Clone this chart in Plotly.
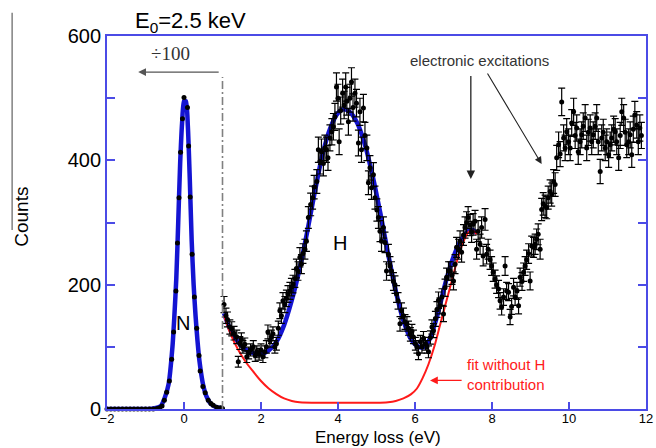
import numpy as np
import plotly.graph_objects as go

# ---------------- data ----------------
# N (elastic, divided by 100) peak data points
n_x = [-2.0, -1.9, -1.8, -1.7, -1.6, -1.5, -1.4, -1.3, -1.2, -1.1, -1.0, -0.9, -0.8, -0.7,
       -0.63, -0.57, -0.51, -0.45, -0.38, -0.32, -0.27, -0.21, -0.17, -0.13, -0.09, -0.04,
       0.0, 0.09, 0.12, 0.16, 0.21, 0.27, 0.33, 0.39, 0.42, 0.49, 0.55, 0.63, 0.70, 0.76,
       0.85, 0.95, 1.0]
n_y = [0, 0, 0, 0, 0, 0, 0, 0, 0, 0, 0, 0, 0, 1,
       2, 5, 14, 27, 45, 80, 124, 190, 267, 340, 413, 467,
       501, 485, 423, 341, 249, 180, 130, 86, 61, 36, 26, 14, 9, 6,
       3, 2, 1]

# N fit (blue)
nfit_x = [-2.0, -1.0, -0.8, -0.6, -0.5, -0.4, -0.3, -0.25, -0.2, -0.15, -0.1, -0.05, 0.0,
          0.05, 0.1, 0.15, 0.2, 0.25, 0.3, 0.35, 0.4, 0.5, 0.6, 0.7, 0.8, 0.9, 1.0]
nfit_y = [0, 0, 1, 5, 18, 40, 100, 150, 210, 300, 395, 460, 495,
          495, 455, 370, 270, 200, 150, 110, 78, 38, 18, 8, 4, 2, 1]

# H region data points (counts)
h_x = [1.04, 1.09, 1.13, 1.19, 1.24, 1.30, 1.37, 1.41, 1.45, 1.49, 1.53, 1.58, 1.63, 1.68,
       1.73, 1.80, 1.85, 1.89, 1.95, 2.00, 2.05, 2.10, 2.14, 2.18, 2.23, 2.27, 2.31, 2.36,
       2.40, 2.45, 2.49, 2.53, 2.57, 2.62, 2.66, 2.70, 2.75, 2.79, 2.83, 2.88, 2.92, 2.96,
       3.01, 3.05, 3.09, 3.14, 3.18, 3.23, 3.29, 3.34, 3.38, 3.45, 3.49, 3.53, 3.57, 3.62,
       3.66, 3.70, 3.74, 3.79, 3.84, 3.88, 3.92, 3.96, 4.00, 4.03, 4.07, 4.12, 4.16, 4.20,
       4.23, 4.27, 4.31, 4.35, 4.39, 4.44, 4.48, 4.53, 4.57, 4.61, 4.66, 4.70, 4.75, 4.79,
       4.83, 4.87, 4.92, 4.96, 5.01, 5.05, 5.09, 5.13, 5.18, 5.22, 5.26, 5.31, 5.35, 5.39,
       5.44, 5.48, 5.52, 5.56, 5.61, 5.65, 5.70, 5.74, 5.79, 5.83, 5.88, 5.92, 5.96, 6.01,
       6.05, 6.09, 6.14, 6.18, 6.22, 6.27, 6.31, 6.35, 6.40, 6.44, 6.48, 6.53, 6.57, 6.61,
       6.65, 6.70, 6.74, 6.78, 6.82, 6.87, 6.91, 6.96, 7.00, 7.04, 7.08, 7.13, 7.17, 7.21,
       7.26, 7.30, 7.34, 7.38, 7.43, 7.47, 7.51, 7.56, 7.60, 7.64, 7.69, 7.73, 7.77, 7.82,
       7.86, 7.90, 7.95, 7.99, 8.03, 8.08, 8.12, 8.17, 8.21, 8.25, 8.30, 8.34, 8.38, 8.43,
       8.47, 8.51, 8.56, 8.60, 8.65, 8.69, 8.73, 8.78, 8.82, 8.86, 8.90, 8.95, 8.99, 9.03,
       9.08, 9.12, 9.16, 9.20, 9.25, 9.29, 9.33, 9.38, 9.42, 9.46, 9.51, 9.55, 9.60, 9.64,
       9.68, 9.73, 9.77, 9.81, 9.86, 9.90, 9.94, 9.99, 10.03, 10.07, 10.12, 10.16, 10.20,
       10.24, 10.29, 10.33, 10.37, 10.42, 10.46, 10.50, 10.55, 10.59, 10.63, 10.68, 10.72,
       10.76, 10.81, 10.85, 10.89, 10.94, 10.98, 11.03, 11.07, 11.11, 11.16, 11.20, 11.24,
       11.29, 11.33, 11.37, 11.42, 11.46, 11.50, 11.55, 11.59, 11.63, 11.67, 11.71, 11.76,
       11.80, 11.84, 11.88]
h_y = [168, 150, 144, 132, 129, 122, 116, 76, 106, 112, 100, 104, 84, 90,
       95, 100, 86, 92, 88, 95, 84, 92, 100, 124, 110, 116, 121, 100,
       105, 130, 158, 150, 174, 168, 178, 185, 190, 196, 201, 210, 226, 222,
       244, 233, 250, 257, 270, 308, 329, 340, 357, 366, 417, 398, 414, 395,
       420, 417, 404, 436, 446, 454, 470, 518, 500, 430, 480, 508, 489, 518,
       495, 462, 500, 526, 485, 508, 492, 428, 478, 417, 484, 440, 420, 364,
       388, 356, 377, 340, 320, 308, 286, 270, 292, 268, 222, 249, 230, 222,
       205, 200, 185, 174, 137, 158, 150, 140, 137, 130, 120, 125, 116, 105,
       100, 89, 108, 100, 114, 105, 100, 92, 115, 132, 126, 145, 160, 175,
       166, 180, 153, 195, 212, 222, 222, 215, 206, 233, 260, 257, 270, 252,
       280, 292, 300, 308, 296, 285, 297, 302, 257, 286, 265, 292, 246, 305,
       249, 257, 240, 230, 220, 209, 200, 193, 174, 164, 180, 230, 190, 188,
       148, 165, 196, 180, 190, 166, 212, 205, 220, 230, 240, 250, 206, 262,
       260, 265, 273, 281, 257, 321, 330, 326, 324, 340, 350, 345, 366, 361,
       404, 425, 410, 494, 436, 420, 446, 430, 420, 460, 478, 440, 452,
       414, 430, 441, 455, 468, 420, 445, 452, 430, 441, 455, 468,
       430, 382, 436, 445, 420, 430, 409, 425, 436, 450, 446, 430,
       404, 440, 478, 468, 445, 425, 430, 441, 409, 450, 473, 457,
       430, 452, 440]
# Poisson (counting) uncertainty of each point, matching the bar lengths in the picture
h_err = list(np.sqrt(np.array(h_y, dtype=float)))

# Full fit (blue) over the H region
hfit_x = [1.04, 1.2, 1.4, 1.6, 1.8, 2.0, 2.2, 2.4, 2.6, 2.8, 3.0, 3.2, 3.4, 3.6, 3.8, 4.0,
          4.15, 4.3, 4.5, 4.7, 4.9, 5.1, 5.3, 5.5, 5.7, 5.9, 6.1, 6.25, 6.4, 6.6, 6.8,
          7.0, 7.2, 7.4, 7.5, 7.6]
hfit_y = [154, 128, 108, 96, 90, 88, 94, 108, 135, 175, 225, 285, 350, 410, 452, 476,
          482, 478, 460, 425, 375, 315, 250, 190, 142, 112, 100, 100, 115, 155, 205,
          245, 272, 287, 288, 283]

# Fit without H contribution (red)
red_x = [1.04, 1.2, 1.4, 1.6, 1.8, 2.0, 2.2, 2.4, 2.6, 2.8, 3.0, 3.5, 4.0, 4.5, 5.0, 5.3,
         5.5, 5.7, 5.9, 6.05, 6.2, 6.35, 6.5, 6.65, 6.8, 6.95, 7.1, 7.25, 7.4, 7.5, 7.6]
red_y = [150, 122, 96, 76, 60, 45, 33, 24, 17, 13, 11, 10, 10, 10, 10, 11,
         13, 17, 24, 33, 50, 72, 100, 135, 170, 205, 240, 268, 285, 287, 281]

x_ticks = [-2, 0, 2, 4, 6, 8, 10, 12]
y_ticks = [0, 100, 200, 300, 400, 500, 600]
y_ticktext = ["0", "", "200", "", "400", "", "600"]

AXIS = "#4b4be6"
BLUE = "#1414d2"
RED = "#ff1a1a"

fig = go.Figure()

fig.add_trace(go.Scatter(x=nfit_x, y=nfit_y, mode="lines",
                         line=dict(color=BLUE, width=4.5, shape="spline", smoothing=0.6),
                         cliponaxis=False, showlegend=False, hoverinfo="skip"))
fig.add_trace(go.Scatter(x=hfit_x, y=hfit_y, mode="lines",
                         line=dict(color=BLUE, width=4.5, shape="spline", smoothing=0.8),
                         showlegend=False, hoverinfo="skip"))
fig.add_trace(go.Scatter(x=red_x, y=red_y, mode="lines",
                         line=dict(color=RED, width=2, shape="spline", smoothing=0.8),
                         showlegend=False, hoverinfo="skip"))
fig.add_trace(go.Scatter(x=n_x, y=n_y, mode="markers",
                         marker=dict(color="black", size=5),
                         cliponaxis=False, showlegend=False))
fig.add_trace(go.Scatter(x=h_x, y=h_y, mode="markers",
                         marker=dict(color="black", size=5),
                         error_y=dict(type="data", array=h_err, visible=True,
                                      color="black", thickness=1.2, width=3.5),
                         showlegend=False))

# dash-dot separator at 1 eV
fig.add_shape(type="line", x0=1.0, x1=1.0, y0=0, y1=534, xref="x", yref="y",
              line=dict(color="#808080", width=1.6, dash="8px,3px,2px,3px"))
# vertical gray line at far left
fig.add_shape(type="line", xref="paper", yref="paper", x0=-0.176, x1=-0.176,
              y0=0.48, y1=1.062, line=dict(color="#808080", width=1.5))

ann = []
# ÷100 arrow
ann.append(dict(x=-1.19, y=542, ax=0.94, ay=542, xref="x", yref="y", axref="x", ayref="y",
                showarrow=True, arrowhead=2, arrowsize=1.2, arrowwidth=1.3,
                arrowcolor="#555555", text=""))
ann.append(dict(x=-0.35, y=551, xref="x", yref="y", text="÷100", showarrow=False,
                xanchor="center",
                font=dict(family="Liberation Serif, Times New Roman, serif", size=19,
                          color="#333333"), yanchor="bottom"))
# electronic excitations
ann.append(dict(x=7.45, y=370, ax=7.45, ay=538, xref="x", yref="y", axref="x", ayref="y",
                showarrow=True, arrowhead=2, arrowsize=1.3, arrowwidth=1.3,
                arrowcolor="#222222", text=""))
ann.append(dict(x=9.29, y=394, ax=7.86, ay=542, xref="x", yref="y", axref="x", ayref="y",
                showarrow=True, arrowhead=2, arrowsize=1.3, arrowwidth=1.1,
                arrowcolor="#222222", text=""))
ann.append(dict(x=7.68, y=560, xref="x", yref="y", text="electronic excitations",
                showarrow=False, xanchor="center",
                font=dict(family="Arial", size=15, color="#333333")))
# red arrow + label
ann.append(dict(x=6.39, y=46, ax=7.25, ay=46, xref="x", yref="y", axref="x", ayref="y",
                showarrow=True, arrowhead=2, arrowsize=1.2, arrowwidth=1.3,
                arrowcolor=RED, text=""))
ann.append(dict(x=7.3, y=56, xref="x", yref="y", text="fit without H<br>contribution",
                showarrow=False, xanchor="left", align="left",
                font=dict(family="Arial", size=15, color=RED)))
# N and H labels
ann.append(dict(x=-0.03, y=139, xref="x", yref="y", text="N", showarrow=False,
                xanchor="center", font=dict(family="Arial", size=20, color="black")))
ann.append(dict(x=4.05, y=267, xref="x", yref="y", text="H", showarrow=False,
                xanchor="center", font=dict(family="Arial", size=20, color="black")))
# title
ann.append(dict(x=0.155, y=1.037, xref="paper", yref="paper", xanchor="center",
                yanchor="middle", text="E<sub>0</sub>=2.5 keV", showarrow=False,
                font=dict(family="Arial", size=22, color="black")))
# axis titles
ann.append(dict(x=-0.158, y=0.515, xref="paper", yref="paper", text="Counts",
                xanchor="center", yanchor="middle",
                textangle=-90, showarrow=False,
                font=dict(family="Arial", size=19, color="black")))
ann.append(dict(x=0.503, y=-0.076, xref="paper", yref="paper", text="Energy loss (eV)",
                xanchor="center", yanchor="middle",
                showarrow=False, font=dict(family="Arial", size=17, color="black")))

fig.update_layout(
    width=656, height=448,
    margin=dict(l=107, r=10, t=36, b=39, autoexpand=False),
    plot_bgcolor="white", paper_bgcolor="white",
    annotations=ann, showlegend=False,
    xaxis=dict(range=[-2, 12], tickvals=x_ticks, ticks="inside", ticklen=7, tickwidth=1.5,
               tickcolor=AXIS, showline=True, linecolor=AXIS, linewidth=1.8, mirror=True,
               showgrid=False, zeroline=False, automargin=False, ticklabelstandoff=-4,
               tickfont=dict(family="Arial", size=13, color="black")),
    yaxis=dict(range=[0, 600], tickvals=y_ticks, ticktext=y_ticktext, ticks="inside",
               ticklen=8, tickwidth=1.5, tickcolor=AXIS, showline=True, linecolor=AXIS,
               linewidth=1.8, mirror="ticks", showgrid=False, zeroline=False, automargin=False,
               tickfont=dict(family="Arial", size=20, color="black")),
)

fig.write_html("out.html", config={"displayModeBar": False},
               post_script="document.body.style.margin='0';document.body.style.overflow='hidden';")
